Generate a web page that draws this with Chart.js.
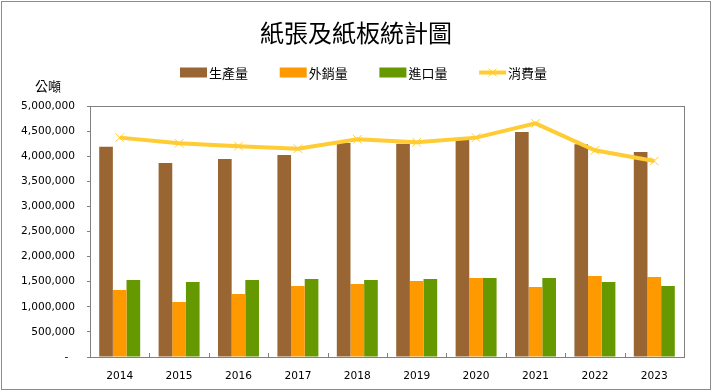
<!DOCTYPE html>
<html>
<head>
<meta charset="utf-8">
<script src="https://cdn.jsdelivr.net/npm/chart.js@4"></script>
<style>
  html, body { margin: 0; padding: 0; background: #ffffff; }
  canvas { display: block; }
</style>
</head>
<body>
<canvas id="c" width="713" height="392"></canvas>
<script>
const titleText = '紙張及紙板統計圖';
const unitText = '公噸';
const years = ['2014', '2015', '2016', '2017', '2018', '2019', '2020', '2021', '2022', '2023'];
const seriesNames = ['生產量', '外銷量', '進口量', '消費量'];
const production = [4190000, 3865000, 3945000, 4025000, 4265000, 4250000, 4330000, 4480000, 4240000, 4085000];
const exportsVol = [1335000, 1096000, 1255000, 1414000, 1454000, 1514000, 1574000, 1394000, 1614000, 1594000];
const importsVol = [1534000, 1494000, 1534000, 1554000, 1534000, 1554000, 1574000, 1574000, 1494000, 1414000];
const consumption = [4370000, 4257000, 4200000, 4150000, 4336000, 4277000, 4370000, 4655000, 4117000, 3904000];
const yMax = 5000000;
const yStep = 500000;

const colors = ['#996633', '#FF9900', '#669900', '#FFCC33'];
const cjkFont = '"Noto Sans CJK TC", "Noto Sans CJK SC", sans-serif';
const numFont = '"DejaVu Sans", Verdana, sans-serif';

const decorPlugin = {
  id: 'decor',
  beforeDraw(chart) {
    const ctx = chart.ctx;
    ctx.save();
    ctx.fillStyle = '#ffffff';
    ctx.fillRect(0, 0, chart.width, chart.height);
    ctx.restore();
  },
  afterDraw(chart) {
    const ctx = chart.ctx;
    const a = chart.chartArea;
    ctx.save();
    // outer border
    ctx.strokeStyle = '#8c8c8c';
    ctx.lineWidth = 1;
    ctx.strokeRect(1.5, 1.5, 709, 388);
    // plot border
    ctx.strokeStyle = '#808080';
    ctx.strokeRect(Math.round(a.left) + 0.5, Math.round(a.top) + 0.5, Math.round(a.right - a.left), Math.round(a.bottom - a.top));
    // inward x tick marks at category boundaries
    const xs = chart.scales.x;
    const n = years.length;
    for (let i = 1; i < n; i++) {
      const x = Math.round((xs.getPixelForTick(i - 1) + xs.getPixelForTick(i)) / 2) + 0.5;
      ctx.beginPath();
      ctx.moveTo(x, a.bottom);
      ctx.lineTo(x, a.bottom - 4);
      ctx.stroke();
    }
    // title
    ctx.fillStyle = '#000000';
    ctx.font = '24px ' + cjkFont;
    ctx.textAlign = 'center';
    ctx.textBaseline = 'middle';
    ctx.fillText(titleText, 356, 33);
    // unit
    ctx.font = '13px ' + cjkFont;
    ctx.fillText(unitText, 48, 86);
    // legend
    const startX = 180, pitch = 99.7, ly = 72.5;
    ctx.textAlign = 'left';
    for (let i = 0; i < seriesNames.length; i++) {
      const bx = startX + i * pitch;
      if (i < 3) {
        ctx.fillStyle = colors[i];
        ctx.fillRect(bx, ly - 5, 27, 10);
      } else {
        ctx.strokeStyle = colors[3];
        ctx.lineWidth = 4;
        ctx.beginPath();
        ctx.moveTo(bx, ly);
        ctx.lineTo(bx + 27, ly);
        ctx.stroke();
        ctx.lineWidth = 1;
        const cx = bx + 13.5;
        ctx.beginPath();
        ctx.moveTo(cx - 4, ly - 4); ctx.lineTo(cx + 4, ly + 4);
        ctx.moveTo(cx - 4, ly + 4); ctx.lineTo(cx + 4, ly - 4);
        ctx.stroke();
      }
      ctx.fillStyle = '#000000';
      ctx.font = '13px ' + cjkFont;
      ctx.fillText(seriesNames[i], bx + 29, ly + 0.5);
    }
    ctx.restore();
  }
};

new Chart(document.getElementById('c'), {
  data: {
    labels: years,
    datasets: [
      { type: 'line', label: seriesNames[3], data: consumption, order: 0,
        borderColor: colors[3], backgroundColor: colors[3], borderWidth: 4,
        pointStyle: 'crossRot', pointRadius: 6, pointBorderWidth: 1, pointBorderColor: '#FFCC33',
        pointHoverRadius: 6, tension: 0, fill: false },
      { type: 'bar', label: seriesNames[0], data: production, order: 1, backgroundColor: colors[0],
        categoryPercentage: 0.69, barPercentage: 1.0 },
      { type: 'bar', label: seriesNames[1], data: exportsVol, order: 1, backgroundColor: colors[1],
        categoryPercentage: 0.69, barPercentage: 1.0 },
      { type: 'bar', label: seriesNames[2], data: importsVol, order: 1, backgroundColor: colors[2],
        categoryPercentage: 0.69, barPercentage: 1.0 }
    ]
  },
  options: {
    responsive: false,
    animation: false,
    devicePixelRatio: 1,
    layout: { padding: { top: 106, left: 0, right: 29, bottom: 0 } },
    plugins: {
      legend: { display: false },
      title: { display: false },
      tooltip: { enabled: false }
    },
    scales: {
      x: {
        grid: { display: true, drawOnChartArea: false, drawTicks: false },
        border: { display: false },
        ticks: { color: '#000000', font: { family: numFont, size: 10.6 }, padding: 13, maxRotation: 0 },
        afterFit(s) { s.height = 35; }
      },
      y: {
        min: 0, max: yMax,
        grid: { display: true, drawOnChartArea: false, drawTicks: true, tickLength: 3, color: '#808080' },
        border: { display: false },
        ticks: {
          stepSize: yStep, color: '#000000', font: { family: numFont, size: 10.6 }, padding: 12,
          callback(v) { return v === 0 ? '-  ' : v.toLocaleString('en-US'); }
        },
        afterFit(s) { s.width = 90; }
      }
    }
  },
  plugins: [decorPlugin]
});
</script>
</body>
</html>
